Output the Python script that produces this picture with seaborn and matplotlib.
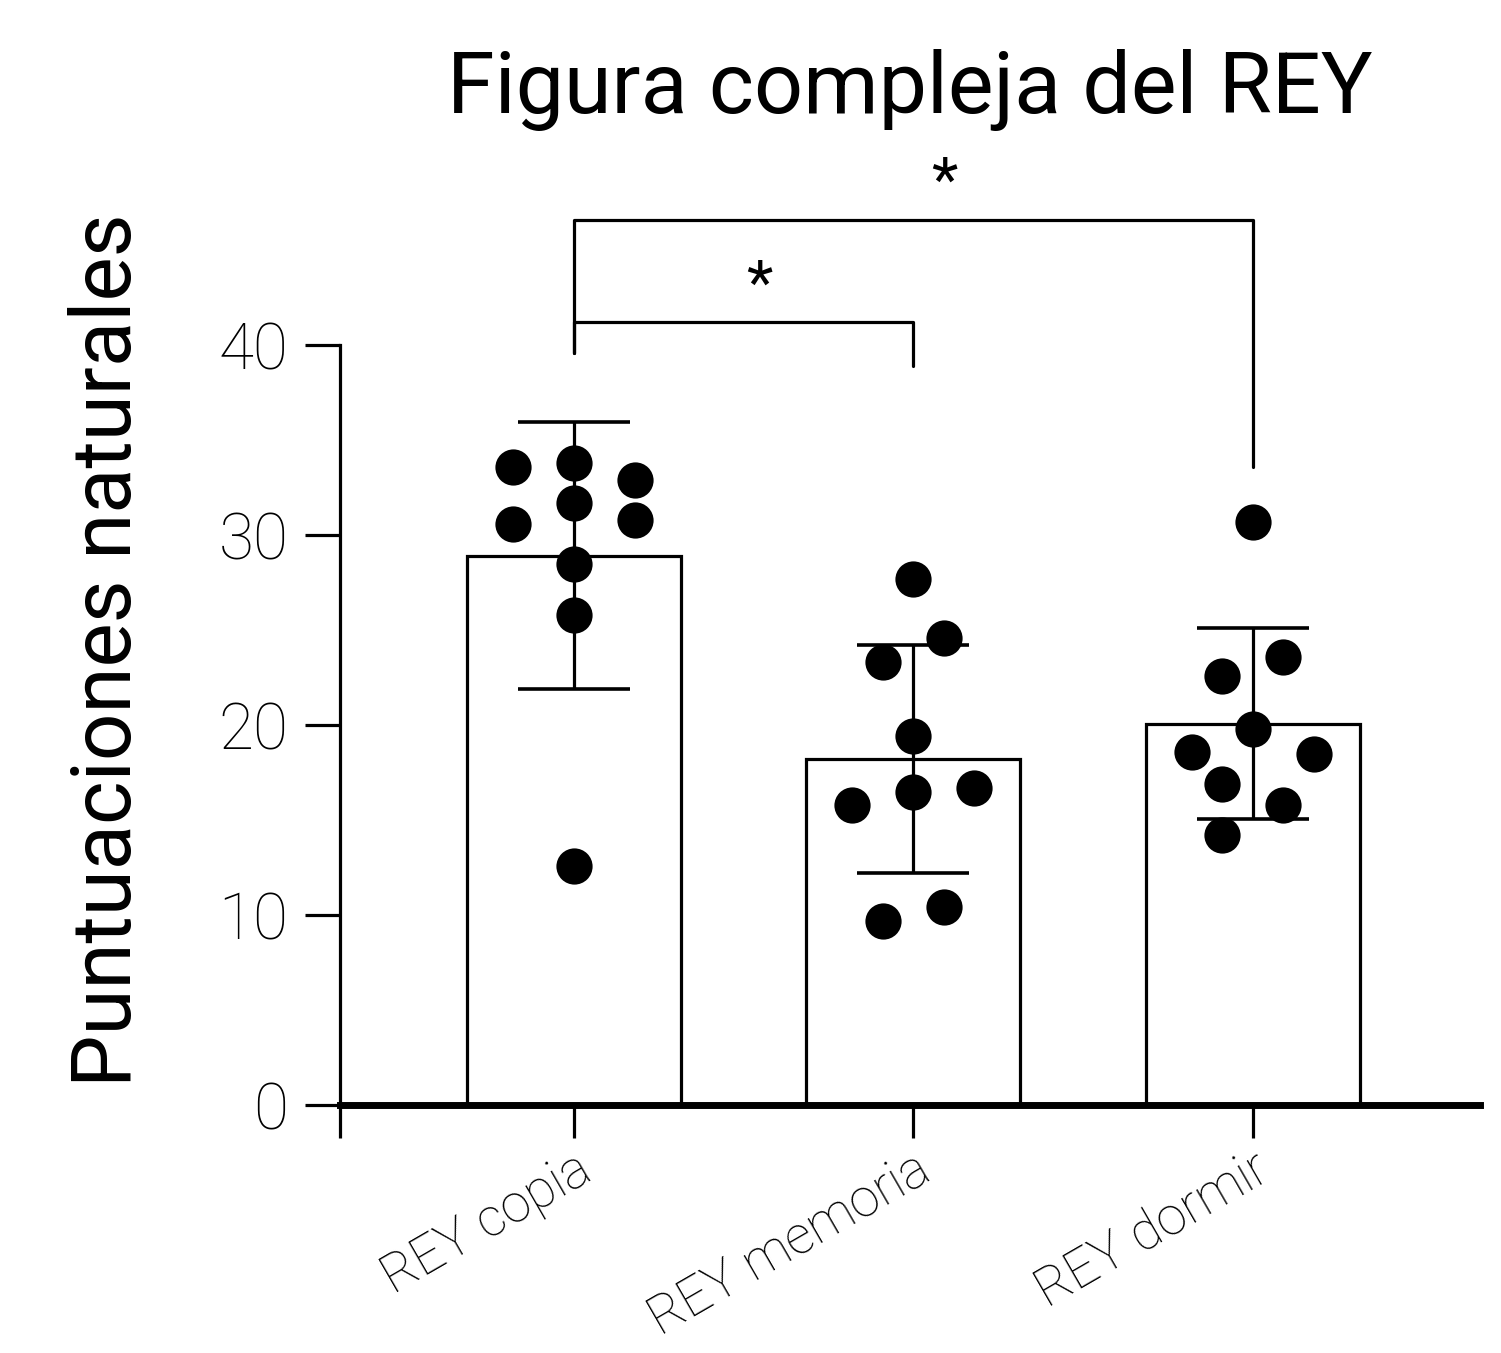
import numpy as np
import pandas as pd
import seaborn as sns
import matplotlib.pyplot as plt

# Datos
grupos = ['REY copia', 'REY memoria', 'REY dormir']
copia = [33.6, 33.8, 32.9, 31.7, 30.6, 30.8, 28.5, 25.8, 12.6]
memoria = [27.7, 24.6, 23.3, 19.4, 15.8, 16.5, 16.7, 9.7, 10.4]
dormir = [30.7, 23.6, 22.6, 19.8, 18.6, 18.5, 16.9, 15.8, 14.2]
# desviacion estandar (barras de error)
de = [7.05, 6.0, 5.05]
# desplazamiento horizontal de cada punto (como en el grafico original)
desp_copia = [-0.18, 0, 0.18, 0, -0.18, 0.18, 0, 0, 0]
desp_memoria = [0, 0.09, -0.09, 0, -0.18, 0, 0.18, -0.09, 0.09]
desp_dormir = [0, 0.09, -0.09, 0, -0.18, 0.18, -0.09, 0.09, -0.09]
comparaciones = [('REY copia', 'REY memoria', '*'), ('REY copia', 'REY dormir', '*')]

df = pd.DataFrame({
    'grupo': np.repeat(grupos, 9),
    'valor': copia + memoria + dormir,
    'desp': desp_copia + desp_memoria + desp_dormir,
})
pos = {g: i for i, g in enumerate(grupos)}
df['x'] = df['grupo'].map(pos) + df['desp']
medias = df.groupby('grupo', sort=False)['valor'].mean()

sns.set_style('ticks')
plt.rcParams['font.family'] = ['Roboto', 'DejaVu Sans']
plt.rcParams['text.color'] = 'black'

fig = plt.figure(figsize=(15.01, 13.53), dpi=100)
ax = fig.add_axes([0.2265, 0.1833, 0.7595, 0.7021])

sns.barplot(data=df, x='grupo', y='valor', order=grupos, errorbar=None,
            width=0.63, color='white', edgecolor='black', linewidth=2.3, ax=ax)
ax.errorbar(range(len(grupos)), medias[grupos].values, yerr=de, fmt='none',
            ecolor='black', elinewidth=2.3, capsize=40, capthick=2.6, zorder=4)
ax.scatter(df['x'], df['valor'], s=680, color='black', linewidths=0, zorder=5)

ax.set_xlim(-0.69, 2.67)
ax.set_ylim(0, 50)
ax.set_yticks([0, 10, 20, 30, 40])
ax.set_xticks([0, 1, 2])
ax.set_xticklabels(grupos, rotation=30, ha='right', rotation_mode='anchor')
ax.set_xticks([-0.69], minor=True)
ax.set_xlabel('')
ax.set_ylabel('')

sns.despine(ax=ax)
ax.spines['left'].set_bounds(0, 40)
ax.spines['left'].set_linewidth(2.3)
ax.spines['left'].set_color('black')
ax.spines['bottom'].set_linewidth(5)
ax.spines['bottom'].set_color('black')
ax.tick_params(axis='y', length=25, width=2.3, labelsize=46, pad=12,
               colors='black')
ax.tick_params(axis='x', which='both', length=24, width=2.3, labelsize=38,
               pad=4, colors='black')
for t in ax.get_yticklabels() + ax.get_xticklabels():
    t.set_fontweight('light')

# lineas de significancia
alturas = [41.2, 46.6]
patas = [(39.6, 38.9), (39.6, 33.6)]
ajuste_estrella = [0.045, 0.09]
for (a, b, txt), h, (pa, pb), dx in zip(comparaciones, alturas, patas, ajuste_estrella):
    xa, xb = pos[a], pos[b]
    ax.plot([xa, xa, xb, xb], [pa, h, h, pb], color='black', lw=2.3,
            clip_on=False)
    ax.text((xa + xb) / 2 + dx, h + 1.9, txt, ha='center', va='center',
            fontsize=44)

ax.set_title('Figura compleja del REY', fontsize=62, pad=30, color='black')
fig.text(108 / 1501, 1 - 650 / 1353, 'Puntuaciones naturales', rotation=90,
         ha='center', va='center', fontsize=60, color='black')

fig.savefig('out.png', dpi=100)
